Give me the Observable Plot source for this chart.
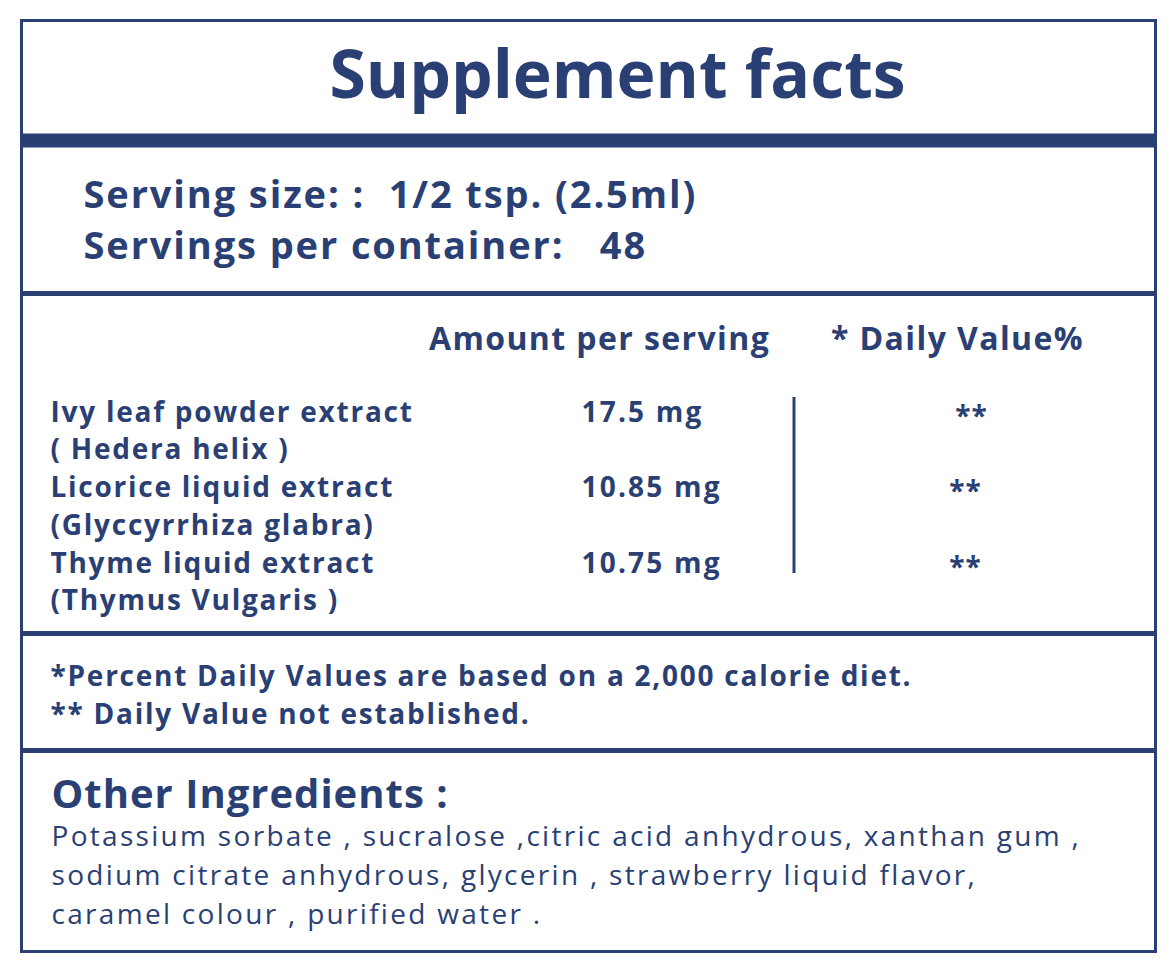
<!DOCTYPE html>
<html>
<head>
<meta charset="utf-8">
<script src="https://cdn.jsdelivr.net/npm/d3@7"></script>
<script src="https://cdn.jsdelivr.net/npm/@observablehq/plot@0.6"></script>
<style>
  html, body { margin: 0; padding: 0; background: #fff; }
  svg text { white-space: pre; }
</style>
</head>
<body>
<div id="chart"></div>
<script>
// ---- data ----
const title = "Supplement facts";
const servingLines = ["Serving size: :  1/2 tsp. (2.5ml)", "Servings per container:   48"];
const columnHeaders = ["Amount per serving", "* Daily Value%"];
const ingredientNames = ["Ivy leaf powder extract", "Licorice liquid extract", "Thyme liquid extract"];
const latinNames = ["( Hedera helix )", "(Glyccyrrhiza glabra)", "(Thymus Vulgaris )"];
const amounts = ["17.5 mg", "10.85 mg", "10.75 mg"];
const dailyValues = ["**", "**", "**"];
const footnotes = ["*Percent Daily Values are based on a 2,000 calorie diet.", "** Daily Value not established."];
const otherTitle = "Other Ingredients :";
const otherLines = [
  "Potassium sorbate , sucralose ,citric acid anhydrous, xanthan gum ,",
  "sodium citrate anhydrous, glycerin , strawberry liquid flavor,",
  "caramel colour , purified water ."
];

// ---- layout ----
const W = 1175, H = 966;
const C = "#2a3f74";
const FONT = "Open Sans";
const box = {x1: 21.5, x2: 1155.5, y1: 20.5, y2: 951.5};
const rowY0 = 421, rowStep = 75.5, subOff = 37.5;

const rows = ingredientNames.map((n, i) => ({
  name: n, latin: latinNames[i], amount: amounts[i], dv: dailyValues[i],
  y: rowY0 + i * rowStep
}));

const chart = Plot.plot({
  width: W, height: H, margin: 0,
  x: {domain: [0, W], range: [0, W], axis: null},
  y: {domain: [0, H], range: [0, H], axis: null},
  style: {fontFamily: FONT, background: "#fff"},
  marks: [
    Plot.rect([box], {x1: "x1", x2: "x2", y1: "y1", y2: "y2", fill: "none", stroke: C, strokeWidth: 3}),
    Plot.ruleY([140], {x1: box.x1, x2: box.x2, stroke: C, strokeWidth: 14}),
    Plot.ruleY([293, 633, 750], {x1: box.x1, x2: box.x2, stroke: C, strokeWidth: 5}),
    Plot.ruleX([793.5], {y1: 397, y2: 573, stroke: C, strokeWidth: 3}),
    // title
    Plot.text([title], {x: 617, y: 97, text: d => d, fontSize: 66, fontWeight: "bold", fill: C, lineAnchor: "bottom", textAnchor: "middle"}),
    // serving lines
    Plot.text(servingLines, {x: 83, y: (d, i) => 207 + i * 51, text: d => d, fontSize: 38, fontWeight: "bold", fill: C, lineAnchor: "bottom", textAnchor: "start"}),
    // column headers
    Plot.text(columnHeaders, {x: (d, i) => [599, 957][i], y: 349, text: d => d, fontSize: 32, fontWeight: "bold", fill: C, lineAnchor: "bottom", textAnchor: "middle"}),
    // ingredient rows
    Plot.text(rows, {x: 50, y: "y", text: "name", fontSize: 28, fontWeight: "bold", fill: C, lineAnchor: "bottom", textAnchor: "start"}),
    Plot.text(rows, {x: 50, y: d => d.y + subOff, text: "latin", fontSize: 28, fontWeight: "bold", fill: C, lineAnchor: "bottom", textAnchor: "start"}),
    Plot.text(rows, {x: 581, y: "y", text: "amount", fontSize: 28, fontWeight: "bold", fill: C, lineAnchor: "bottom", textAnchor: "start"}),
    Plot.text(rows, {x: (d, i) => i === 0 ? 971 : 965, y: d => d.y + 4, text: "dv", fontSize: 28, fontWeight: "bold", fill: C, lineAnchor: "bottom", textAnchor: "middle"}),
    // footnotes
    Plot.text(footnotes, {x: 50, y: (d, i) => 685 + i * 38, text: d => d, fontSize: 28, fontWeight: "bold", fill: C, lineAnchor: "bottom", textAnchor: "start"}),
    // other ingredients
    Plot.text([otherTitle], {x: 51, y: 807, text: d => d, fontSize: 40, fontWeight: "bold", fill: C, lineAnchor: "bottom", textAnchor: "start"}),
    Plot.text(otherLines, {x: 51, y: (d, i) => 845 + i * 39, text: d => d, fontSize: 28, fill: C, lineAnchor: "bottom", textAnchor: "start"})
  ]
});

// tracking (letter spacing) per text mark, in mark order
const tracking = [0, 1.9, 1.4, 1.75, 1.75, 2.2, 1, 1.75, 1.0, 2.3];
chart.querySelectorAll('g[aria-label="text"]').forEach((g, i) => {
  if (tracking[i] != null) g.style.letterSpacing = tracking[i] + "px";
});
document.getElementById("chart").appendChild(chart);
</script>
</body>
</html>
